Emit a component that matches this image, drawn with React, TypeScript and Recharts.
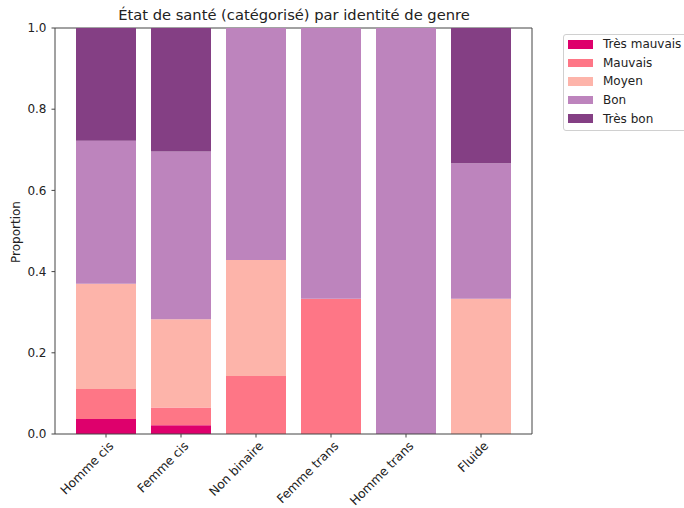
import React from "react";
import { BarChart, Bar, XAxis, YAxis, Legend, CartesianGrid } from "recharts";

const categories = ["Homme cis", "Femme cis", "Non binaire", "Femme trans", "Homme trans", "Fluide"];
const tresMauvais = [2 / 54, 1 / 46, 0, 0, 0, 0];
const mauvais = [4 / 54, 2 / 46, 1 / 7, 1 / 3, 0, 0];
const moyen = [14 / 54, 10 / 46, 2 / 7, 0, 0, 1 / 3];
const bon = [19 / 54, 19 / 46, 4 / 7, 2 / 3, 1, 1 / 3];
const tresBon = [15 / 54, 14 / 46, 0, 0, 0, 1 / 3];
const yTicks = [0, 0.2, 0.4, 0.6, 0.8, 1.0];

const seriesNames = ["Très mauvais", "Mauvais", "Moyen", "Bon", "Très bon"];
const seriesKeys = ["tm", "m", "moy", "b", "tb"];
const seriesColors = ["#DE006C", "#FE7686", "#FDB4AA", "#BD84BD", "#843F84"];

const data = categories.map((c, i) => ({
  name: c,
  tm: tresMauvais[i],
  m: mauvais[i],
  moy: moyen[i],
  b: bon[i],
  tb: tresBon[i],
}));

const FONT = "DejaVu Sans, sans-serif";
const AXIS = "#444";
const TEXT = "#222";

const XTick = (props: any) => {
  const { x, y, payload } = props;
  return (
    <g transform={`translate(${x + 2},${y + 1})`}>
      <text
        transform="rotate(-45)"
        textAnchor="end"
        dominantBaseline="hanging"
        fontFamily={FONT}
        fontSize={12.3}
        fill={TEXT}
      >
        {payload.value}
      </text>
    </g>
  );
};

const LegendContent = () => (
  <div
    style={{
      boxSizing: "border-box",
      border: "1px solid #d0d0d0",
      borderRadius: 3,
      background: "#fff",
      padding: "0px 0px 2px 4px",
      width: 124,
      fontFamily: FONT,
      fontSize: 12,
      color: TEXT,
      whiteSpace: "nowrap",
    }}
  >
    {seriesNames.map((n, i) => (
      <div key={n} style={{ display: "flex", alignItems: "center", height: 18.6 }}>
        <div style={{ width: 25, height: 8.5, background: seriesColors[i], marginRight: 10, flex: "none" }} />
        <span>{n}</span>
      </div>
    ))}
  </div>
);

export default function App() {
  return (
    <div style={{ position: "absolute", left: 0, top: 0, width: 684, height: 508, background: "#fff", overflow: "hidden" }}>
      <svg style={{ position: "absolute", left: 0, top: 0, pointerEvents: "none" }} width={684} height={508}>
        <text x={294} y={20} textAnchor="middle" fontFamily={FONT} fontSize={14.7} fill={TEXT}>
          État de santé (catégorisé) par identité de genre
        </text>
        <text
          x={20}
          y={232}
          transform="rotate(-90 20 232)"
          textAnchor="middle"
          fontFamily={FONT}
          fontSize={12}
          fill={TEXT}
        >
          Proportion
        </text>
      </svg>
      <BarChart
        width={684}
        height={508}
        data={data}
        margin={{ top: 28, right: 152, bottom: 0, left: 0 }}
        barCategoryGap="10%"
        style={{ position: "absolute", left: 0, top: 0 }}
      >
        <CartesianGrid
          stroke={AXIS}
          horizontalCoordinatesGenerator={(p: any) => [p.offset.top]}
          verticalCoordinatesGenerator={(p: any) => [p.offset.left + p.offset.width]}
        />
        <XAxis
          dataKey="name"
          height={74}
          padding={{ left: 13.5, right: 13.5 }}
          stroke={AXIS}
          tickSize={3.5}
          tick={<XTick />}
          interval={0}
        />
        <YAxis
          width={55}
          domain={[0, 1]}
          ticks={yTicks}
          tickFormatter={(v: number) => v.toFixed(1)}
          stroke={AXIS}
          tickSize={3.5}
          tickMargin={5}
          tick={{ fontFamily: FONT, fontSize: 12, fill: TEXT }}
          allowDataOverflow
        />
        <Legend
          verticalAlign="middle"
          align="center"
          layout="vertical"
          content={<LegendContent />}
          wrapperStyle={{ position: "absolute", left: 563, top: 34, width: 124, height: 96 }}
        />
        {seriesKeys.map((k, i) => (
          <Bar
            key={k}
            dataKey={k}
            name={seriesNames[i]}
            stackId="a"
            fill={seriesColors[i]}
            isAnimationActive={false}
          />
        ))}
      </BarChart>
    </div>
  );
}
